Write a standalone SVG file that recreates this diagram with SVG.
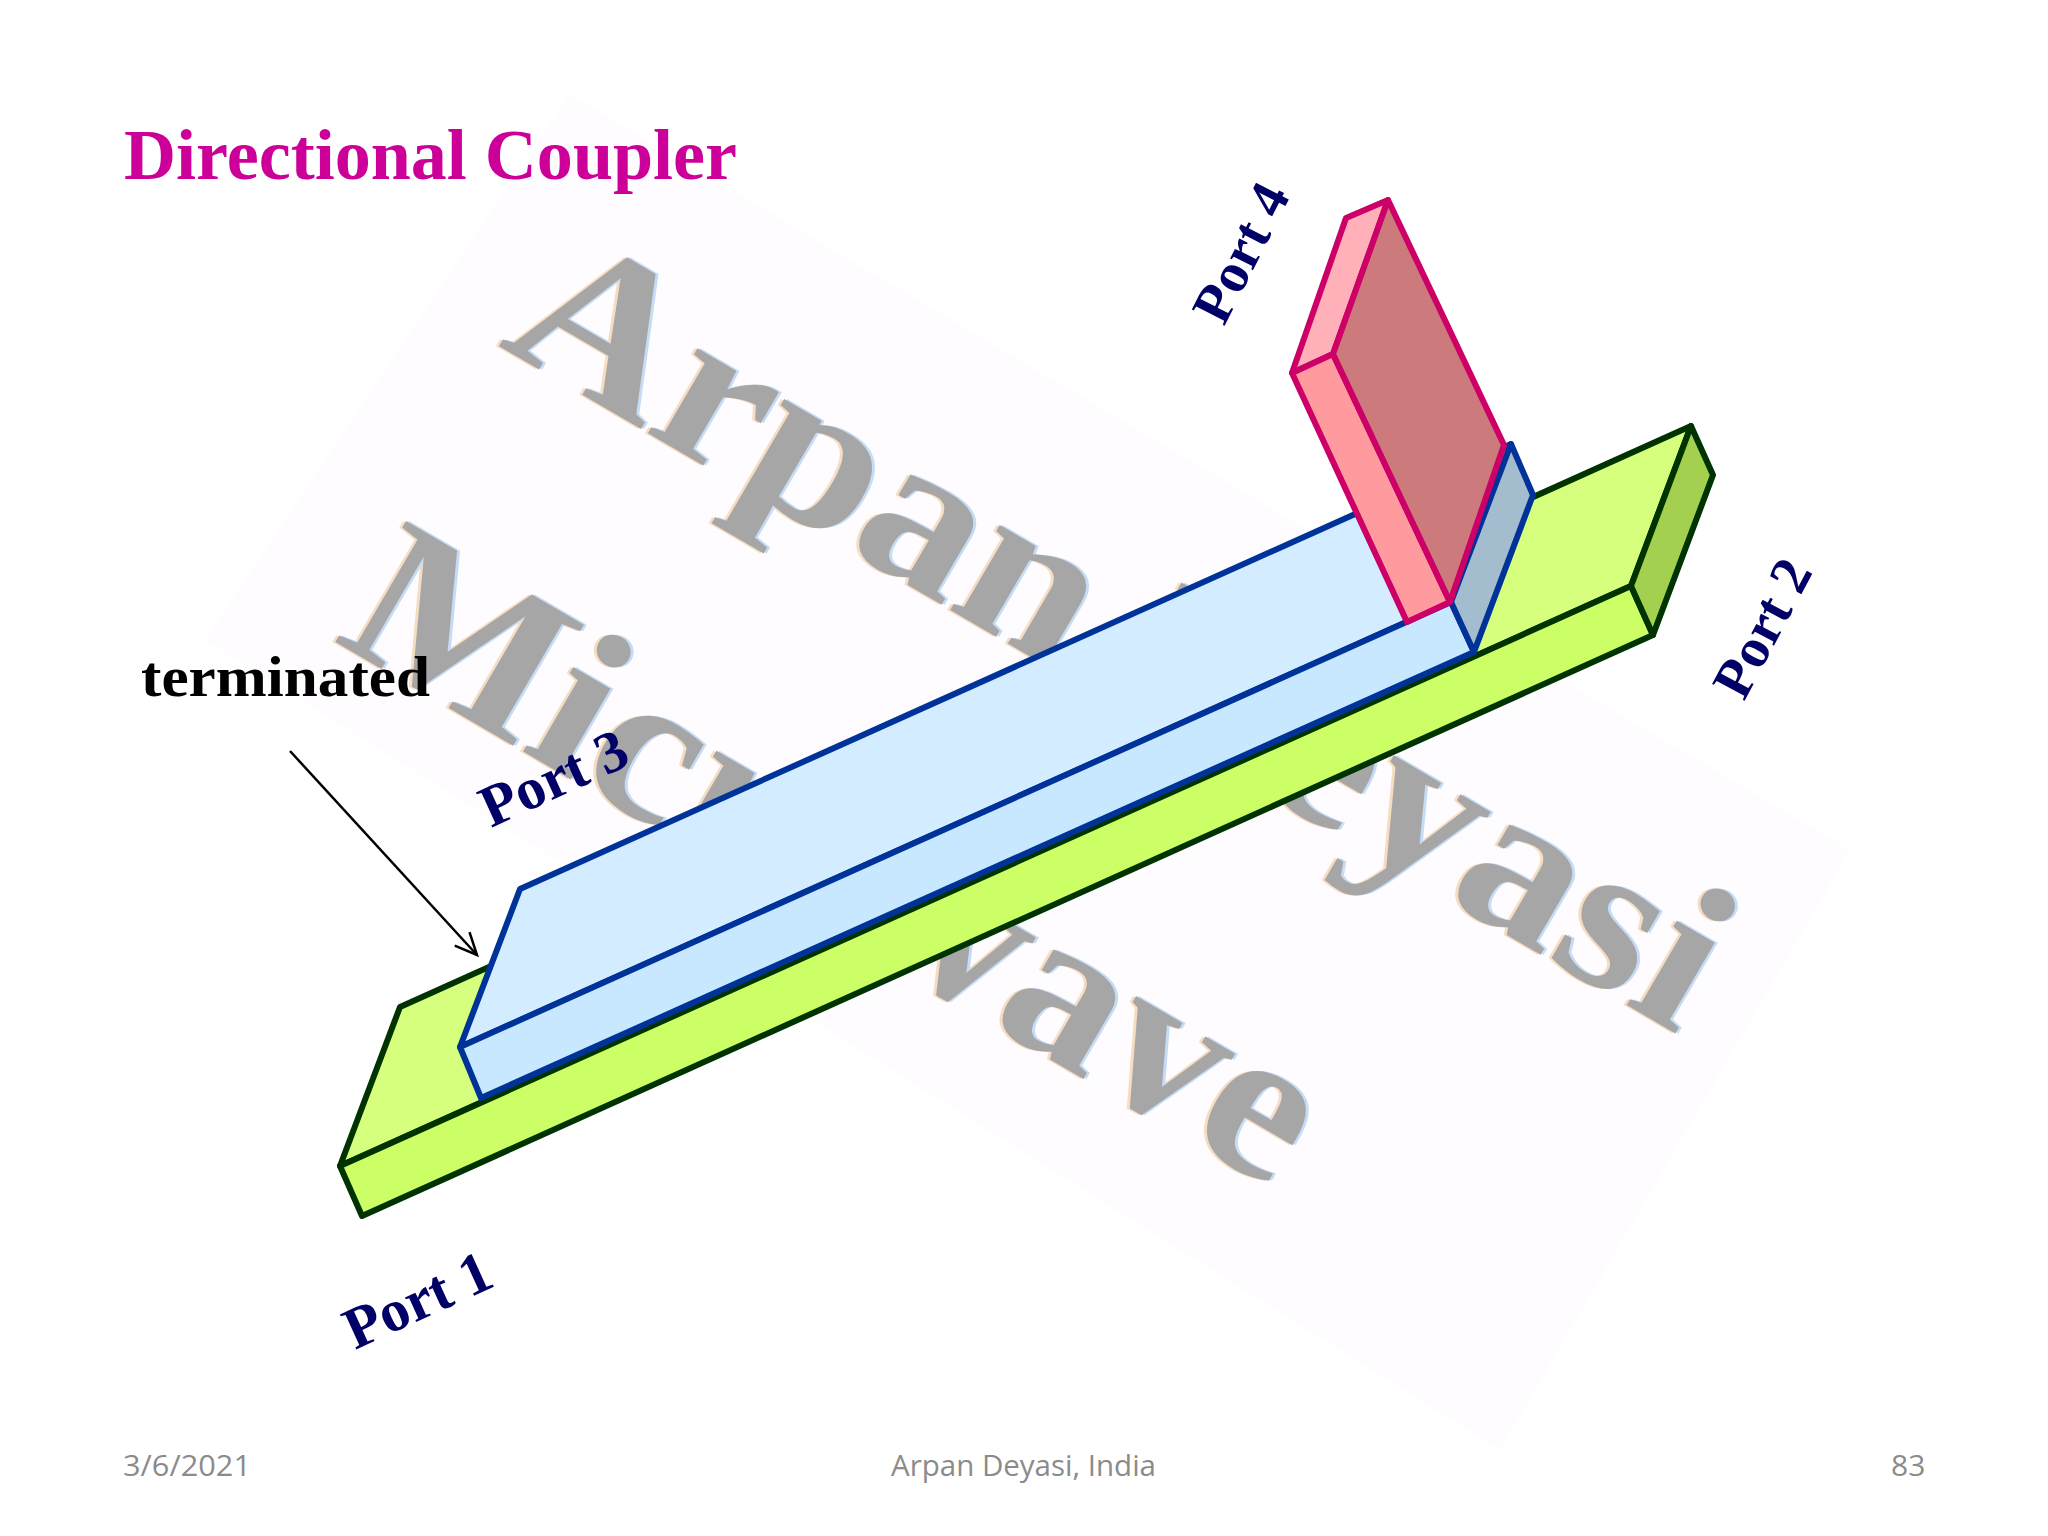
<svg xmlns="http://www.w3.org/2000/svg" width="2048" height="1536" viewBox="0 0 2048 1536">
<defs>
<marker id="open" markerUnits="userSpaceOnUse" markerWidth="30" markerHeight="30" refX="24" refY="12" orient="auto"><path d="M2 2 L24 12 L2 22" fill="none" stroke="#000" stroke-width="2.5"/></marker>
<filter id="fringe" x="-5%" y="-5%" width="110%" height="110%" color-interpolation-filters="sRGB">
<feFlood flood-color="#f6dcc0" result="tan"/><feComposite in="tan" in2="SourceAlpha" operator="in" result="t"/><feOffset in="t" dx="-3" dy="0" result="to"/>
<feFlood flood-color="#c4dcf6" result="blue"/><feComposite in="blue" in2="SourceAlpha" operator="in" result="b"/><feOffset in="b" dx="3" dy="0" result="bo"/>
<feMerge><feMergeNode in="to"/><feMergeNode in="bo"/><feMergeNode in="SourceGraphic"/></feMerge>
</filter>
</defs>
<style>
.wm{font-family:"Liberation Serif",serif;font-weight:bold;fill:#a6a6a6}
.port{font-family:"Liberation Serif",serif;font-weight:bold;fill:#000066;font-size:59px}
.steep{font-size:56px}
.foot{font-family:"Open Sans","Liberation Sans",sans-serif;fill:#8b8b8b;font-size:30px}
.g{stroke:#003300;stroke-width:6;stroke-linejoin:round}
.b{stroke:#003399;stroke-width:6;stroke-linejoin:round}
.p{stroke:#cc0066;stroke-width:6;stroke-linejoin:round}
</style>
<rect width="2048" height="1536" fill="#ffffff"/>
<g id="watermark">
<path d="M570 95 L1850 850 L1500 1450 L205 640 Z" fill="#fefcfe"/>
<g filter="url(#fringe)">
<text class="wm" font-size="214" transform="translate(497 345) rotate(30.3)" textLength="1368" lengthAdjust="spacingAndGlyphs">Arpan Deyasi</text>
<text class="wm" font-size="214" transform="translate(332 640) rotate(30.3)" textLength="1090" lengthAdjust="spacingAndGlyphs">Microwave</text>
</g>
</g>
<g id="title"><text x="124" y="179" font-family="'Liberation Serif',serif" font-weight="bold" font-size="72" fill="#cc0099" textLength="613" lengthAdjust="spacingAndGlyphs">Directional Coupler</text></g>
<g id="green-base">
<polygon class="g" points="340,1166 400,1007 1691,426 1631,586" fill="#d6ff7d"/>
<polygon class="g" points="340,1166 362,1216 1653,635 1631,586" fill="#ccff66"/>
<polygon class="g" points="1691,426 1713,475 1653,635 1631,586" fill="#a4d04f"/>
</g>
<g id="blue-line">
<polygon class="b" points="460,1047 520,889 1511,444 1451,602" fill="#d4ecff"/>
<polygon class="b" points="460,1047 481,1098 1474,652 1451,602" fill="#c8e8ff"/>
<polygon class="b" points="1451,602 1511,444 1533,495 1474,652" fill="#a3bdcf"/>
</g>
<g id="pink-line">
<polygon class="p" points="1292,373 1346,218 1388,200 1333,354" fill="#ffb0b8"/>
<polygon class="p" points="1292,373 1333,354 1450,602 1407,622" fill="#ff9a9f"/>
<polygon class="p" points="1333,354 1388,200 1504,445 1450,602" fill="#cc7a7c"/>
</g>
<g id="connectors"><line x1="290" y1="751" x2="477" y2="955" stroke="#000" stroke-width="2.5" marker-end="url(#open)"/></g>
<g id="labels">
<text id="port1" class="port" transform="translate(355 1350) rotate(-24.5)">Port 1</text>
<text id="port3" class="port" transform="translate(491 828) rotate(-24.5)">Port 3</text>
<text id="port2" class="port steep" transform="translate(1744 702) rotate(-62)">Port 2</text>
<text id="port4" class="port steep" transform="translate(1224 327) rotate(-63)">Port 4</text>
<text id="terminated" x="141" y="696" font-family="'Liberation Serif',serif" font-weight="bold" font-size="56" fill="#000" textLength="289" lengthAdjust="spacingAndGlyphs">terminated</text>
</g>
<g id="footer">
<text class="foot" x="123" y="1476" textLength="128" lengthAdjust="spacingAndGlyphs">3/6/2021</text>
<text class="foot" x="891" y="1476" textLength="265" lengthAdjust="spacingAndGlyphs">Arpan Deyasi, India</text>
<text class="foot" x="1891" y="1476">83</text>
</g>
</svg>
